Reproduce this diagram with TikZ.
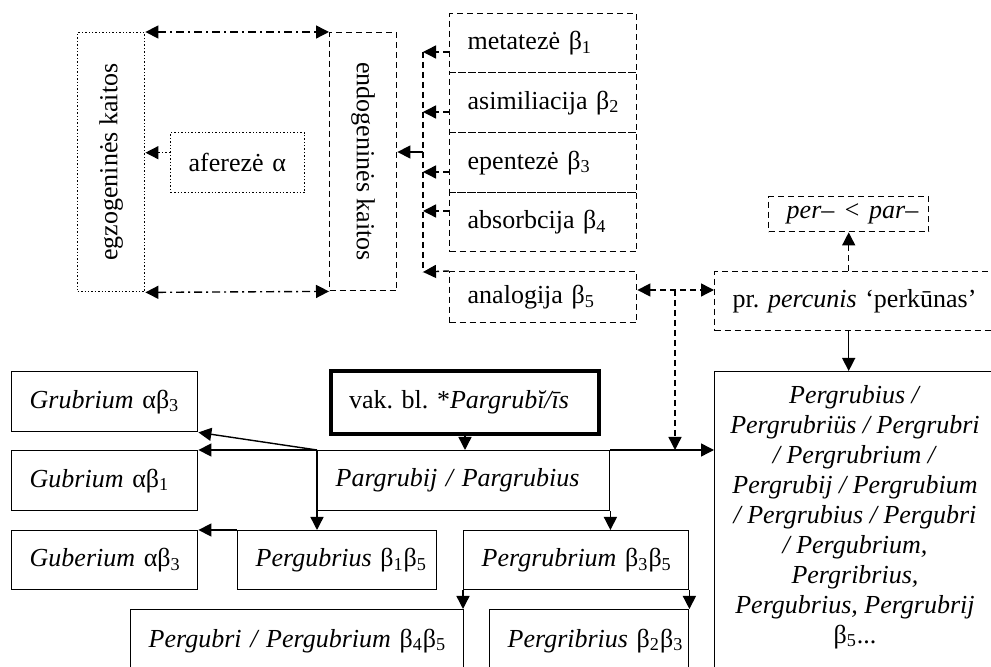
\documentclass[tikz,border=0pt]{standalone}
\usepackage{fontspec}
\setmainfont{Liberation Serif}
\usetikzlibrary{arrows.meta}
\frenchspacing
\begin{document}
\begin{tikzpicture}[x=0.5pt,y=-0.5pt,
  font=\fontsize{13}{15}\selectfont,
  >={Triangle[length=6.5pt,width=6.5pt]},
  bx/.style={draw, line width=0.7pt, anchor=north west, inner xsep=9pt, inner ysep=0pt, align=left},
  dsh/.style={dash pattern=on 3pt off 2pt},
  dshdot/.style={line width=0.7pt, dash pattern=on 4pt off 2pt on 1pt off 2pt},
  ln/.style={line width=0.7pt},
  txt/.style={inner sep=0pt}]
\useasboundingbox (0,0) rectangle (991,667);

% top left group
\node[bx, densely dotted, minimum width=33.5pt, minimum height=129.5pt] (egz) at (77,32) {};
\node[txt, rotate=90] (egzt) at (egz.center) {egzogeninės kaitos};
\node[bx, dsh, minimum width=33.5pt, minimum height=129pt] (endo) at (329,32) {};
\node[txt, rotate=-90] (endot) at (endo.center) {endogeninės kaitos};
\node[bx, densely dotted, text width=49pt, minimum height=30pt] (afer) at (170,132) {\mbox{aferezė α}};

% beta boxes
\node[bx, dsh, text width=75.5pt, minimum height=29.5pt] (b1) at (449,13) {\mbox{metatezė β\textsubscript{1}}};
\node[bx, dsh, text width=75.5pt, minimum height=30pt] (b2) at (449,72) {\mbox{asimiliacija β\textsubscript{2}}};
\node[bx, dsh, text width=75.5pt, minimum height=30pt] (b3) at (449,132) {\mbox{epentezė β\textsubscript{3}}};
\node[bx, dsh, text width=75.5pt, minimum height=29.5pt] (b4) at (449,192) {\mbox{absorbcija β\textsubscript{4}}};
\node[bx, dsh, text width=75.5pt, minimum height=25.5pt] (b5) at (449,271) {\mbox{analogija β\textsubscript{5}}};

% right top
\node[bx, dsh, text width=123pt, minimum height=29.5pt] (perc) at (714,271) {\mbox{pr. \textit{percunis} ‘perkūnas’}};
\node[bx, dsh, text width=62pt, minimum height=17.5pt] (perpar) at (768,196) {\mbox{\textit{per– < par–}}};

% lower part
\node[bx, line width=2pt, text width=116pt, minimum height=31.5pt] (vak) at (329,369) {\mbox{vak. bl. *\textit{Pargrubĭ/īs}}};
\node[bx, text width=128pt, minimum height=30pt] (parg) at (317,450) {\mbox{\textit{Pargrubij / Pargrubius}}};
\node[bx, text width=75pt, minimum height=30pt] (grub) at (11,371) {\mbox{\textit{Grubrium} αβ\textsubscript{3}}};
\node[bx, text width=75pt, minimum height=30pt] (gub) at (11,450) {\mbox{\textit{Gubrium} αβ\textsubscript{1}}};
\node[bx, text width=75pt, minimum height=29.5pt] (guber) at (11,530) {\mbox{\textit{Guberium} αβ\textsubscript{3}}};
\node[bx, text width=81.5pt, minimum height=29.5pt] (pgs) at (237,530) {\mbox{\textit{Pergubrius} β\textsubscript{1}β\textsubscript{5}}};
\node[bx, text width=94.5pt, minimum height=29.5pt] (pgr) at (463,530) {\mbox{\textit{Pergrubrium} β\textsubscript{3}β\textsubscript{5}}};
\node[bx, text width=148.5pt, minimum height=31pt] (pgb) at (130,609) {\mbox{\textit{Pergubri / Pergubrium} β\textsubscript{4}β\textsubscript{5}}};
\node[bx, text width=81.5pt, minimum height=31pt] (pgi) at (489,609) {\mbox{\textit{Pergribrius} β\textsubscript{2}β\textsubscript{3}}};
\node[bx, minimum width=141pt, minimum height=155pt] (big) at (714,371) {};
\node[txt, align=center] (bigt) at (855,517) {\textit{Pergrubius /}\\ \textit{Pergrubriüs / Pergrubri}\\ \textit{/ Pergrubrium /}\\ \textit{Pergrubij / Pergrubium}\\ \textit{/ Pergrubius / Pergubri}\\ \textit{/ Pergubrium,}\\ \textit{Pergribrius,}\\ \textit{Pergubrius, Pergrubrij}\\ β\textsubscript{5}...};

% coordinates
\coordinate (vt) at (423,52);
\coordinate (vb) at (423,272);
\coordinate (vm) at (423,152);
\coordinate (hj) at (675,290);

% top connectors
\draw[dshdot,<->] (egz.north east) -- (endo.north west);
\draw[dshdot,<->] (egz.south east) -- (endo.south west);
\draw[ln,densely dotted,->] ([yshift=5pt]afer.west) -- ([yshift=5pt]afer.west -| egz.east);
\draw[ln,dsh] (vt) -- (vb);
\draw[ln,->] (vm) -- (vm -| endo.east);
\draw[ln,dsh,->] (b1.west |- vt) -- (vt);
\draw[ln,dsh,->] (b2.west |- 0,112) -- (vt |- 0,112);
\draw[ln,dsh,->] (b3.west |- 0,172) -- (vt |- 0,172);
\draw[ln,dsh,->] (b4.west |- 0,211) -- (vt |- 0,211);
\draw[ln,dsh,->] (b5.north west) -- (vb);
\draw[ln,dsh,<->] (b5.east |- hj) -- (perc.west |- hj);
\draw[ln,dsh,->] (hj) -- (hj |- parg.north);
\draw[ln,dsh,->] (perpar.south |- perc.north) -- (perpar.south);
\draw[ln,->] (perpar.south |- perc.south) -- (perpar.south |- big.north);

% lower connectors
\draw[ln,->] (vak.south) -- (vak.south |- parg.north);
\draw[ln,->] (parg.north west) -- (gub.north east);
\draw[ln,->] (parg.north west) -- (grub.south east);
\draw[ln,->] (parg.north west) -- (parg.north west |- pgs.north);
\draw[ln,->] (pgs.north west) -- (guber.north east);
\draw[ln,->] (parg.north east) -- (big.west |- parg.north);
\draw[ln,->] (parg.south east) -- (parg.south east |- pgr.north);
\draw[ln,->] (pgr.south west) -- (pgr.south west |- pgb.north);
\draw[ln,->] (pgr.south east) -- (pgr.south east |- pgi.north);
\end{tikzpicture}
\end{document}
